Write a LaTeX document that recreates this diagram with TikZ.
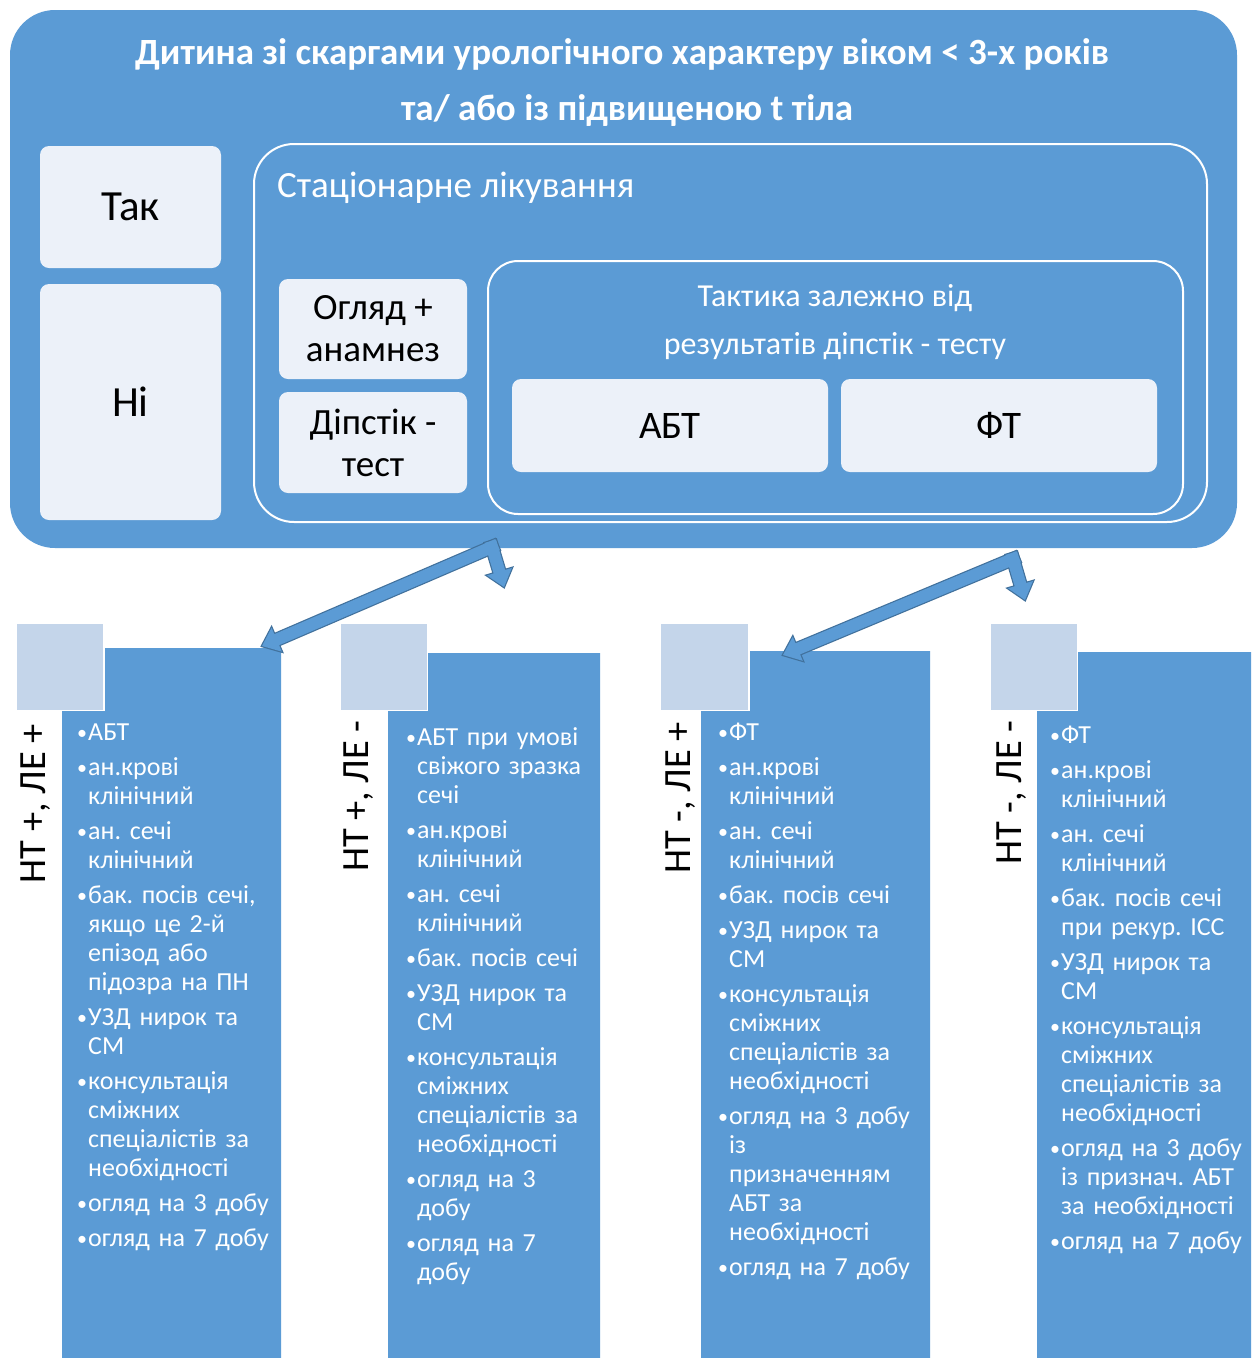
\documentclass[tikz,border=0pt]{standalone}
\usepackage{fontspec}
\setmainfont{Carlito}
\usetikzlibrary{calc}
\frenchspacing

\definecolor{panelblue}{RGB}{91,155,213}
\definecolor{lightfill}{RGB}{236,241,249}
\definecolor{tagfill}{RGB}{196,213,234}
\definecolor{arrowedge}{RGB}{65,113,156}

% one item of a column list
\newcommand{\bul}[1]{\hangindent=11pt\hangafter=1\noindent\strut\makebox[11pt][l]{\raisebox{1.5pt}{\fontsize{20}{20}\selectfont\textbullet}}#1\par}
% one arm of a bent double arrow: style, bend point, tip
\newcommand{\bentarm}[3]{%
  \coordinate (armH) at ($(#3)!16pt!(#2)$);
  \coordinate (armA) at ($(#2)!-6pt!(#3)$);
  \path[#1] ($(armA)!6pt!90:(#3)$) -- ($(armH)!6pt!-90:(#2)$) -- ($(armH)!13pt!-90:(#2)$) -- (#3) --
    ($(armH)!13pt!90:(#2)$) -- ($(armH)!6pt!90:(#2)$) -- ($(armA)!6pt!-90:(#3)$) -- cycle;
}

\begin{document}
\begin{tikzpicture}[x=1pt,y=-1pt,
  lightbox/.style={fill=lightfill, rounded corners=9pt, inner sep=0pt, align=center, font=\fontsize{37}{42}\selectfont},
  frame/.style={draw=white, line width=2pt},
  tagsq/.style={fill=tagfill, draw=white, line width=1pt},
  colbar/.style={fill=panelblue},
  itemlist/.style={text=white, anchor=north west, inner sep=0pt, text width=230pt, align=left,
    font=\fontsize{26}{29}\selectfont, execute at begin node={\setlength{\parskip}{6pt}}},
  sidelabel/.style={rotate=90, anchor=east, inner sep=0pt, font=\fontsize{38.5}{42}\selectfont},
  armedge/.style={draw=arrowedge, line width=2.4pt},
  armfill/.style={fill=panelblue},
]
\path[use as bounding box,fill=white] (0,0) rectangle (1251,1358);

% top panel
\path[fill=panelblue, rounded corners=45pt] (10,10) rectangle (1237,548);
\node[text=white, anchor=base, inner sep=0pt, font=\fontsize{37}{40}\selectfont\bfseries] (title1) at (622,64) {Дитина зі скаргами урологічного характеру віком < 3-х років};
\node[text=white, anchor=base, inner sep=0pt, font=\fontsize{37}{40}\selectfont\bfseries] (title2) at (627,120) {та/ або із підвищеною t тіла};

\node[lightbox, minimum width=181, minimum height=122, font=\fontsize{43}{48}\selectfont] (yes) at (130.5,207) {Так};
\node[lightbox, minimum width=181, minimum height=236, font=\fontsize{43}{48}\selectfont] (no) at (130.5,402) {Ні};

\path[frame, rounded corners=40pt] (254,144) rectangle (1207,522);
\node[text=white, anchor=base west, inner sep=0pt, font=\fontsize{37}{40}\selectfont] (ward) at (277,197) {Стаціонарне лікування};
\node[lightbox, minimum width=188, minimum height=100] (exam) at (373,329) {Огляд +\\анамнез};
\node[lightbox, minimum width=188, minimum height=101] (dip) at (373,442.5) {Діпстік -\\тест};

\path[frame, rounded corners=30pt] (488,261) rectangle (1183,514);
\node[text=white, anchor=base, inner sep=0pt, font=\fontsize{32}{36}\selectfont] (tact1) at (835,306) {Тактика залежно від};
\node[text=white, anchor=base, inner sep=0pt, font=\fontsize{32}{36}\selectfont] (tact2) at (835,354) {результатів діпстік - тесту};
\node[lightbox, minimum width=316, minimum height=93, font=\fontsize{39}{44}\selectfont] (abt) at (670,425.5) {АБТ};
\node[lightbox, minimum width=316, minimum height=93, font=\fontsize{39}{44}\selectfont] (ft) at (999,425.5) {ФТ};

% columns
\path[colbar] (105,648) -- (281,648) -- (281,1358) -- (62,1358) -- (62,711) -- (105,711) -- cycle;
\path[tagsq] (16,623) rectangle (103,710);
\node[sidelabel] (labA) at (36,724) {НТ +, ЛЕ +};
\node[itemlist] (listA) at (77,720) {
\bul{АБТ}
\bul{ан.крові\newline клінічний}
\bul{ан. сечі\newline клінічний}
\bul{бак. посів сечі,\newline якщо це 2-й\newline епізод або\newline підозра на ПН}
\bul{УЗД нирок та\newline СМ}
\bul{консультація\newline сміжних\newline спеціалістів за\newline необхідності}
\bul{огляд на 3 добу}
\bul{огляд на 7 добу}};

\path[colbar] (428,653) -- (600,653) -- (600,1358) -- (388,1358) -- (388,711) -- (428,711) -- cycle;
\path[tagsq] (340,623) rectangle (427,710);
\node[sidelabel] (labB) at (359,720) {НТ +, ЛЕ -};
\node[itemlist] (listB) at (406,725) {
\bul{АБТ при умові\newline свіжого зразка\newline сечі}
\bul{ан.крові\newline клінічний}
\bul{ан. сечі\newline клінічний}
\bul{бак. посів сечі}
\bul{УЗД нирок та\newline СМ}
\bul{консультація\newline сміжних\newline спеціалістів за\newline необхідності}
\bul{огляд на 3\newline добу}
\bul{огляд на 7\newline добу}};

\path[colbar] (750,651) -- (930,651) -- (930,1358) -- (701,1358) -- (701,711) -- (750,711) -- cycle;
\path[tagsq] (660,623) rectangle (748,710);
\node[sidelabel] (labC) at (681,722) {НТ -, ЛЕ +};
\node[itemlist] (listC) at (718,720) {
\bul{ФТ}
\bul{ан.крові\newline клінічний}
\bul{ан. сечі\newline клінічний}
\bul{бак. посів сечі}
\bul{УЗД нирок та\newline СМ}
\bul{консультація\newline сміжних\newline спеціалістів за\newline необхідності}
\bul{огляд на 3 добу\newline із\newline призначенням\newline АБТ за\newline необхідності}
\bul{огляд на 7 добу}};

\path[colbar] (1078,652) -- (1251,652) -- (1251,1358) -- (1037,1358) -- (1037,711) -- (1078,711) -- cycle;
\path[tagsq] (990,623) rectangle (1077,710);
\node[sidelabel] (labD) at (1012,720) {НТ -, ЛЕ -};
\node[itemlist] (listD) at (1050,723) {
\bul{ФТ}
\bul{ан.крові\newline клінічний}
\bul{ан. сечі\newline клінічний}
\bul{бак. посів сечі\newline при рекур. ІСС}
\bul{УЗД нирок та\newline СМ}
\bul{консультація\newline сміжних\newline спеціалістів за\newline необхідності}
\bul{огляд на 3 добу\newline із признач. АБТ\newline за необхідності}
\bul{огляд на 7 добу}};

% bent arrows
\coordinate (bendA) at (492,547);
\coordinate (tipA1) at (262,646);
\coordinate (tipA2) at (504,587);
\coordinate (bendB) at (1013,559);
\coordinate (tipB1) at (783,655);
\coordinate (tipB2) at (1025,600);
\bentarm{armedge}{bendA}{tipA1}
\bentarm{armedge}{bendA}{tipA2}
\bentarm{armfill}{bendA}{tipA1}
\bentarm{armfill}{bendA}{tipA2}
\bentarm{armedge}{bendB}{tipB1}
\bentarm{armedge}{bendB}{tipB2}
\bentarm{armfill}{bendB}{tipB1}
\bentarm{armfill}{bendB}{tipB2}
\end{tikzpicture}
\end{document}
